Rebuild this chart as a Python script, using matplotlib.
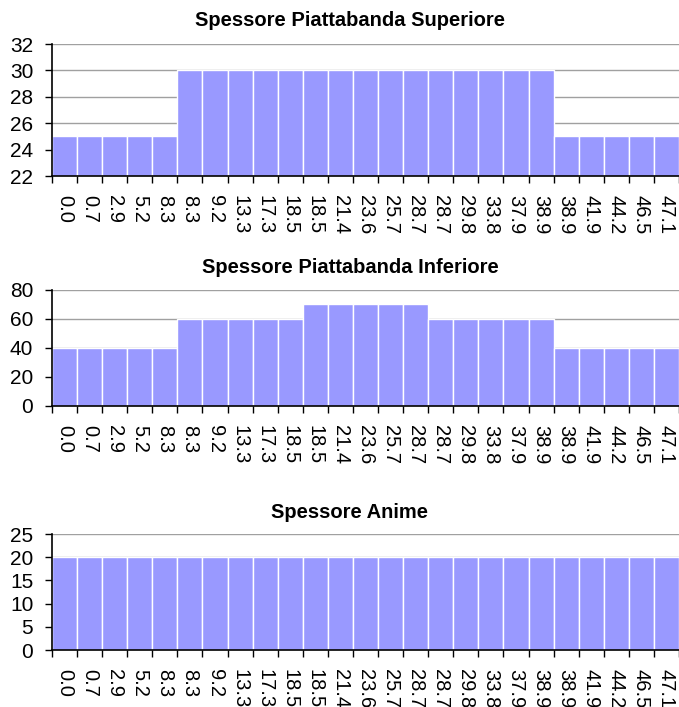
import matplotlib
matplotlib.use('Agg')
import matplotlib.pyplot as plt
import numpy as np

plt.rcParams['font.family'] = ['Liberation Sans', 'DejaVu Sans']

# Section positions (category labels)
labels = ['0.0', '0.7', '2.9', '5.2', '8.3', '8.3', '9.2', '13.3', '17.3', '18.5',
          '18.5', '21.4', '23.6', '25.7', '28.7', '28.7', '29.8', '33.8', '37.9', '38.9',
          '38.9', '41.9', '44.2', '46.5', '47.1']

# Thickness values
sup = [25, 25, 25, 25, 25, 30, 30, 30, 30, 30, 30, 30, 30, 30, 30,
       30, 30, 30, 30, 30, 25, 25, 25, 25, 25]
inf = [40, 40, 40, 40, 40, 60, 60, 60, 60, 60, 70, 70, 70, 70, 70,
       60, 60, 60, 60, 60, 40, 40, 40, 40, 40]
anime = [20] * 25

titles = ['Spessore Piattabanda Superiore', 'Spessore Piattabanda Inferiore', 'Spessore Anime']
ylims = [(22, 32, 2), (0, 80, 20), (0, 25, 5)]
series = [sup, inf, anime]

W, H = 679, 707
fig = plt.figure(figsize=(W / 100, H / 100), dpi=100)

# axes boxes in pixels: (top, bottom)
boxes = [(44, 176), (290, 406), (534, 650)]
title_y = [21, 267, 512]
left, right = 52, 679

x = np.arange(len(labels))
for i in range(3):
    top, bot = boxes[i]
    ax = fig.add_axes([left / W, 1 - bot / H, (right - left) / W, (bot - top) / H])
    lo, hi, step = ylims[i]
    ax.bar(x, np.array(series[i]) - lo, bottom=lo, width=1.0, color='#9999FF',
           edgecolor='white', linewidth=1.0, zorder=2)
    ax.set_xlim(-0.5, len(labels) - 0.5)
    ax.set_ylim(lo, hi)
    ax.set_yticks(np.arange(lo, hi + 0.1, step))
    ax.yaxis.grid(True, color='#A0A0A0', linewidth=1.0, zorder=0)
    ax.set_axisbelow(True)
    ax.set_xticks(x)
    ax.set_xticklabels(labels, rotation=270, fontsize=14.5, va='top', ha='center')
    ax.set_xticks(np.arange(-0.5, len(labels)), minor=True)
    ax.tick_params(axis='x', which='major', length=0, pad=14)
    ax.tick_params(axis='x', which='minor', length=5, width=1, direction='out')
    ax.tick_params(axis='y', length=5, width=1, labelsize=15, pad=8.5)
    for s in ['top', 'right']:
        ax.spines[s].set_visible(False)
    ax.spines['left'].set_linewidth(1.2)
    ax.spines['bottom'].set_linewidth(1.2)
    ax.spines['left'].set_zorder(3)
    ax.spines['bottom'].set_zorder(3)
    fig.text(350 / W, 1 - title_y[i] / H, titles[i], ha='center', va='center',
             fontsize=14.5, fontweight='bold')

fig.savefig('out.png', dpi=100)
